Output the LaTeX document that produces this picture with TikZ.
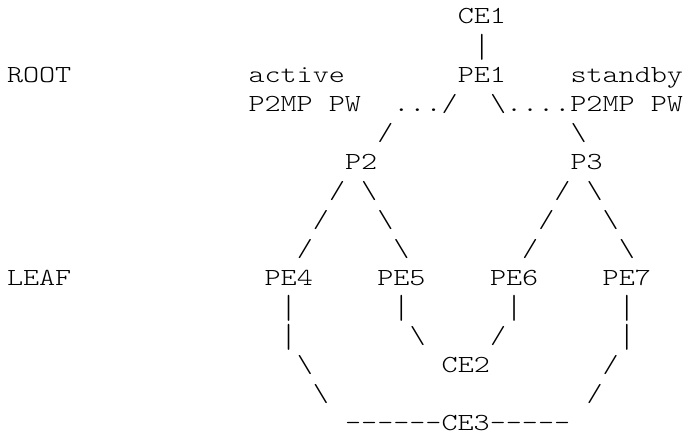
\documentclass[tikz,border=0pt]{standalone}
\usepackage{graphicx}
\usepackage{fontspec}
\setmonofont[FakeStretch=1.25]{lmmonolt10-regular.otf}
\tikzset{txt/.style={anchor=base west, inner sep=0pt, outer sep=0pt, text=black,
  text depth=0pt, font=\ttfamily\fontsize{24.5}{29.2}\selectfont}}
% #1 name, #2 column, #3 row, #4 text
\newcommand\asc[4]{\node[txt] (#1) at ({7pt+16.1pt*#2},{-24pt-29.05pt*#3}) {#4};}
\newcommand\vbar{\raisebox{-4pt}{\scalebox{1}[1.36]{|}}}
\begin{document}
\begin{tikzpicture}
\useasboundingbox (0,0) rectangle (684pt,-436pt);
% row 0-1
\asc{ce1}{28}{0}{CE1}
\asc{l1}{29}{1}{\vbar}
% row 2
\asc{root}{0}{2}{ROOT}
\asc{active}{15}{2}{active}
\asc{pe1}{28}{2}{PE1}
\asc{standby}{35}{2}{standby}
% row 3
\asc{pwa}{15}{3}{P2MP PW}
\asc{da}{24}{3}{.../}
\asc{db}{30}{3}{\textbackslash....P2MP PW}
% row 4
\asc{s4a}{23}{4}{/}
\asc{s4b}{35}{4}{\textbackslash}
% row 5
\asc{p2}{21}{5}{P2}
\asc{p3}{35}{5}{P3}
% rows 6-8
\asc{s6a}{20}{6}{/}
\asc{s6b}{22}{6}{\textbackslash}
\asc{s6c}{34}{6}{/}
\asc{s6d}{36}{6}{\textbackslash}
\asc{s7a}{19}{7}{/}
\asc{s7b}{23}{7}{\textbackslash}
\asc{s7c}{33}{7}{/}
\asc{s7d}{37}{7}{\textbackslash}
\asc{s8a}{18}{8}{/}
\asc{s8b}{24}{8}{\textbackslash}
\asc{s8c}{32}{8}{/}
\asc{s8d}{38}{8}{\textbackslash}
% row 9
\asc{leaf}{0}{9}{LEAF}
\asc{pe4}{16}{9}{PE4}
\asc{pe5}{23}{9}{PE5}
\asc{pe6}{30}{9}{PE6}
\asc{pe7}{37}{9}{PE7}
% row 10
\asc{v10a}{17}{10}{\vbar}
\asc{v10b}{24}{10}{\vbar}
\asc{v10c}{31}{10}{\vbar}
\asc{v10d}{38}{10}{\vbar}
% row 11
\asc{v11a}{17}{11}{\vbar}
\asc{s11b}{25}{11}{\textbackslash}
\asc{s11c}{30}{11}{/}
\asc{v11d}{38}{11}{\vbar}
% row 12
\asc{s12a}{18}{12}{\textbackslash}
\asc{ce2}{27}{12}{CE2}
\asc{s12d}{37}{12}{/}
% row 13
\asc{s13a}{19}{13}{\textbackslash}
\asc{s13d}{36}{13}{/}
% row 14
\asc{ce3}{21}{14}{------CE3-----}
\end{tikzpicture}
\end{document}
